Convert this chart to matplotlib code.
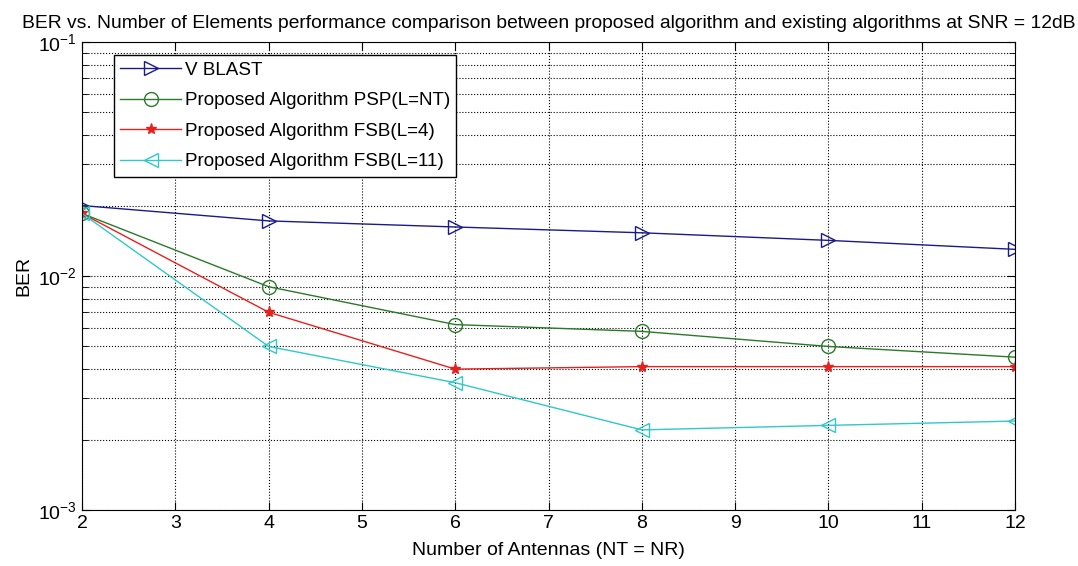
import numpy as np
import matplotlib
matplotlib.use('Agg')
import matplotlib.pyplot as plt
from matplotlib.ticker import LogLocator, NullFormatter

plt.rcParams['font.family'] = ['Liberation Sans', 'DejaVu Sans']
plt.rcParams['mathtext.fontset'] = 'custom'
plt.rcParams['mathtext.rm'] = 'Liberation Sans'

# data
antennas = [2, 4, 6, 8, 10, 12]
vblast = [0.0200, 0.0172, 0.0162, 0.0153, 0.0142, 0.0130]
psp = [0.0185, 0.0090, 0.0062, 0.0058, 0.0050, 0.0045]
fsb4 = [0.0185, 0.0070, 0.0040, 0.0041, 0.0041, 0.0041]
fsb11 = [0.0185, 0.0050, 0.0035, 0.0022, 0.0023, 0.0024]
labels = ['V BLAST', 'Proposed Algorithm PSP(L=NT)',
          'Proposed Algorithm FSB(L=4)', 'Proposed Algorithm FSB(L=11)']

fig = plt.figure(figsize=(10.78, 5.66), dpi=100)
ax = fig.add_axes([0.0761, 0.0989, 0.8655, 0.8269])

ax.semilogy(antennas, vblast, '->', color='#1a1a8c', mfc='none', ms=10, lw=1, label=labels[0])
ax.semilogy(antennas, psp, '-o', color='#2a7a2a', mfc='none', ms=10, lw=1, label=labels[1])
ax.semilogy(antennas, fsb4, '-*', color='#e8201e', ms=8, lw=1, label=labels[2])
ax.semilogy(antennas, fsb11, '-<', color='#30c8c8', mfc='none', ms=10, lw=1, label=labels[3])

ax.set_xlim(2, 12)
ax.set_ylim(1e-3, 1e-1)
ax.set_xticks(range(2, 13))
ax.yaxis.set_major_locator(LogLocator(base=10))
ax.yaxis.set_minor_locator(LogLocator(base=10, subs=np.arange(2, 10)))
ax.yaxis.set_minor_formatter(NullFormatter())
ax.tick_params(which='both', direction='in', top=True, right=True, labelsize=14)
ax.tick_params(which='major', length=6)
ax.tick_params(which='minor', length=4)
ax.grid(True, which='major', linestyle=':', color='black', lw=0.8)
ax.grid(True, which='minor', axis='y', linestyle=':', color='black', lw=0.8)

ax.set_xlabel('Number of Antennas (NT = NR)', fontsize=14, labelpad=7)
ax.set_ylabel('BER', fontsize=14)
ax.set_title('BER vs. Number of Elements performance comparison between proposed algorithm and existing algorithms at SNR = 12dB',
             fontsize=13.85, pad=10)

leg = ax.legend(loc='upper left', bbox_to_anchor=(0.034, 0.972), fontsize=13.6,
                fancybox=False, framealpha=1, edgecolor='black', borderpad=0.35,
                borderaxespad=0, handlelength=3.2, handletextpad=0.2, labelspacing=0.7)
leg.get_frame().set_linewidth(1)

fig.savefig('out.png', dpi=100)
